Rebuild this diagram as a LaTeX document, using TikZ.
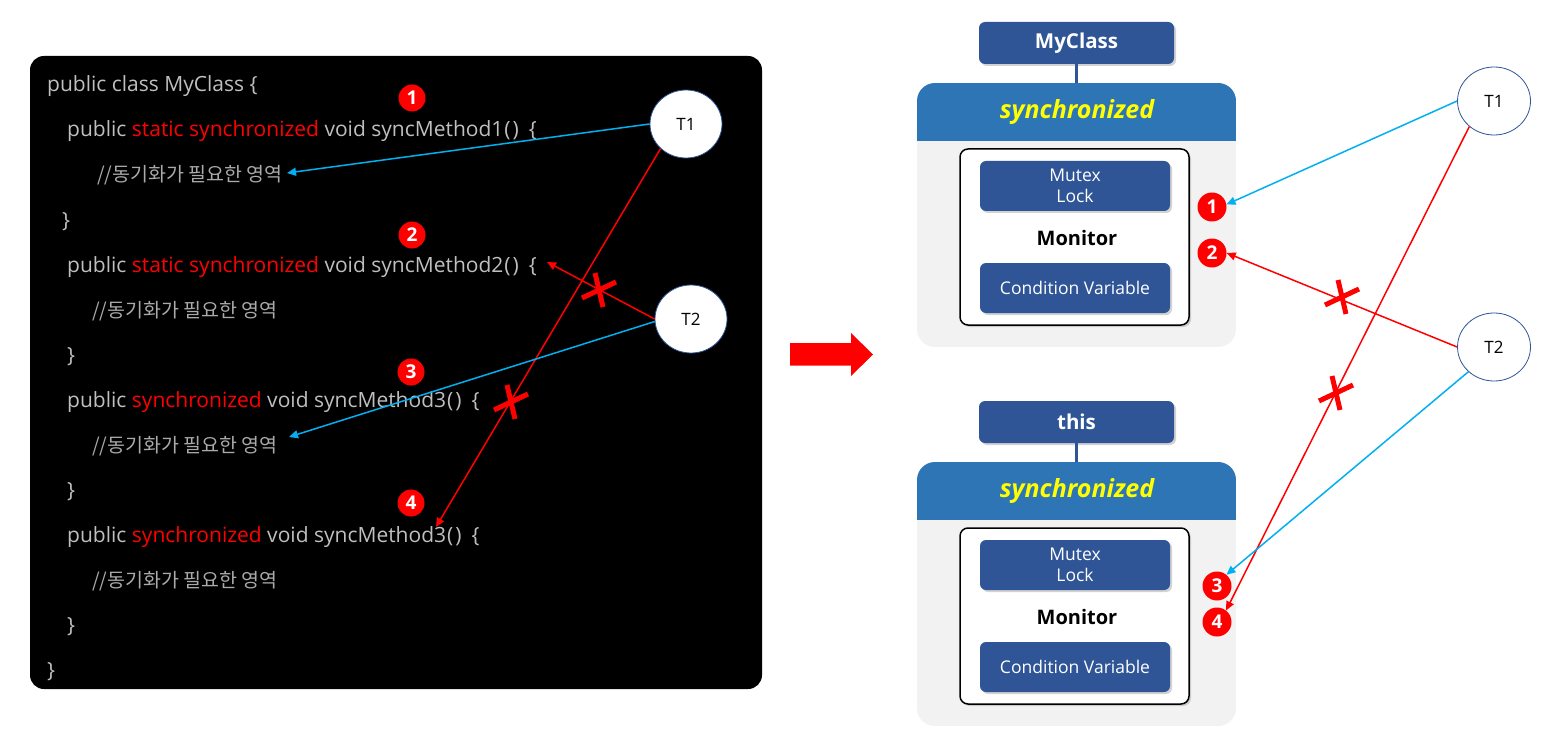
\documentclass[tikz,border=0pt]{standalone}
\usepackage{fontspec}
\setmainfont{Open Sans}
\newfontfamily\krfont{Noto Sans CJK KR}
\usetikzlibrary{shapes.geometric,arrows.meta,shadows}
\definecolor{codegray}{RGB}{191,191,191}
\definecolor{cmtgray}{RGB}{170,170,170}
\definecolor{kwred}{RGB}{255,0,0}
\definecolor{navy}{RGB}{47,85,151}
\definecolor{hdrblue}{RGB}{46,117,182}
\definecolor{panelgray}{RGB}{242,242,242}
\definecolor{arrowblue}{RGB}{0,176,240}
\definecolor{synyellow}{RGB}{255,255,0}
\newcommand{\mtail}{\kern1pt(\kern2pt)\kern10pt\{}
\tikzset{
  crossmark/.pic={
    \draw[red, line width=5] (-17,8) -- (17,-8);
    \draw[red, line width=5] (-4,-17) -- (4,17);
  }
}
\begin{document}
\begin{tikzpicture}[x=1pt,y=-1pt,
  code/.style={anchor=base west, inner sep=0, text=codegray, font=\fontsize{21}{24}\selectfont},
  cmt/.style={anchor=base west, inner sep=0, text=cmtgray, font=\krfont\fontsize{19.5}{23}\selectfont},
  num/.style={circle, fill=red, text=white, inner sep=0, minimum size=27pt, font=\bfseries\fontsize{19}{19}\selectfont},
  thread/.style={ellipse, draw=navy, line width=0.8pt, fill=white, minimum width=72pt, minimum height=68pt, inner sep=0, font=\fontsize{17}{17}\selectfont},
  bluearr/.style={draw=arrowblue, line width=1.5pt, -{Triangle[length=9pt,width=8pt]}},
  redarr/.style={draw=red, line width=1.5pt, -{Triangle[length=9pt,width=8pt]}},
  bluebox/.style={rounded corners=6pt, fill=navy, text=white, inner sep=0,
     drop shadow={opacity=0.35, shadow xshift=2pt, shadow yshift=-2pt}},
]
\useasboundingbox (0,0) rectangle (1555,738);
\fill[white] (0,0) rectangle (1555,738);

% ---------- left code panel ----------
\node[fill=black, rounded corners=14pt, minimum width=732pt, minimum height=633pt, inner sep=0] (panel) at (396,372.5) {};

\node[code] (L1) at (47,92) {public class MyClass \{};
\node[code] (L2) at (67,137) {public \textcolor{kwred}{static synchronized} void syncMethod1\mtail};
\node[cmt] (L3) at (97,182) {//동기화가 필요한 영역};
\node[code] (L4) at (62,227) {\}};
\node[code] (L5) at (67,272) {public \textcolor{kwred}{static synchronized} void syncMethod2\mtail};
\node[cmt] (L6) at (92,317) {//동기화가 필요한 영역};
\node[code] (L7) at (67,362) {\}};
\node[code] (L8) at (67,407) {public \textcolor{kwred}{synchronized} void syncMethod3\mtail};
\node[cmt] (L9) at (92,452) {//동기화가 필요한 영역};
\node[code] (L10) at (67,497) {\}};
\node[code] (L11) at (67,542) {public \textcolor{kwred}{synchronized} void syncMethod3\mtail};
\node[cmt] (L12) at (92,587) {//동기화가 필요한 영역};
\node[code] (L13) at (67,632) {\}};
\node[code] (L14) at (47,677) {\}};

\node[num] (n1) at (412,98) {1};
\node[num] (n2) at (412,235) {2};
\node[num] (n3) at (411,372) {3};
\node[num] (n4) at (411,503) {4};

\node[thread] (T1) at (686,124) {T1};
\node[thread] (T2) at (691,319) {T2};

\coordinate (c1) at (287,173);
\coordinate (c2) at (547,262);
\coordinate (c3) at (289,437);
\coordinate (c4) at (436,527);

\draw[bluearr] (T1.west) -- (c1);
\draw[redarr] (T1.224) -- (c4);
\draw[redarr] (T2.west) -- (c2);
\draw[bluearr] (T2.184) -- (c3);
\pic at (599,290) {crossmark};
\pic at (511,402) {crossmark};

% ---------- big arrow ----------
\fill[red] (790,343) -- (851,343) -- (851,333) -- (873,354.5) -- (851,376) -- (851,365.5) -- (790,365.5) -- cycle;

% ---------- right side ----------
\foreach \dy/\lab/\nm in {0/MyClass/a, 379/this/b}{
  \begin{scope}[shift={(0,\dy)}]
    \begin{scope}
      \clip[rounded corners=18pt] (917,83) rectangle (1236,347);
      \fill[panelgray] (917,83) rectangle (1236,347);
      \fill[hdrblue] (917,83) rectangle (1236,141);
    \end{scope}
    \node[bluebox, minimum width=195pt, minimum height=42pt, font=\bfseries\fontsize{20.5}{20}\selectfont] (cls\nm) at (1076.5,43) {\lab};
    \coordinate (top\nm) at (1077,83);
    \draw[navy, line width=3pt] (cls\nm.south) -- (cls\nm.south |- top\nm);
    \node[inner sep=0, text=synyellow, font=\bfseries\itshape\fontsize{25}{25}\selectfont] (syn\nm) at (1077,112) {synchronized};
    \node[draw=black, line width=1.5pt, fill=white, rounded corners=8pt, minimum width=229pt, minimum height=176pt, inner sep=0,
          drop shadow={opacity=0.35, shadow xshift=2pt, shadow yshift=-2pt}] (mon\nm) at (1074.5,237) {};
    \node[bluebox, minimum width=190pt, minimum height=50pt, align=center, font=\fontsize{17.5}{21}\selectfont] (mtx\nm) at (1075,186) {Mutex\\Lock};
    \node[inner sep=0, font=\bfseries\fontsize{20}{20}\selectfont] (mlab\nm) at (1077,238) {Monitor};
    \node[bluebox, minimum width=190pt, minimum height=50pt, font=\fontsize{17.5}{21}\selectfont] (cv\nm) at (1075,288) {Condition Variable};
  \end{scope}
}

\node[num, minimum size=29pt] (r1) at (1212,207) {1};
\node[num, minimum size=29pt] (r2) at (1212,253) {2};
\node[num, minimum size=29pt] (r3) at (1217,586) {3};
\node[num, minimum size=29pt] (r4) at (1217,622) {4};

\node[thread, minimum width=73pt] (RT1) at (1494,101) {T1};
\node[thread, minimum width=73pt] (RT2) at (1494,347) {T2};

\draw[bluearr] (RT1.west) -- (r1.10);
\draw[redarr] (RT1.226) -- (r4.52);
\draw[redarr] (RT2.west) -- (r2.east);
\draw[bluearr] (RT2.224) -- (r3.50);
\pic at (1342,297) {crossmark};
\pic at (1336,393) {crossmark};
\end{tikzpicture}
\end{document}
